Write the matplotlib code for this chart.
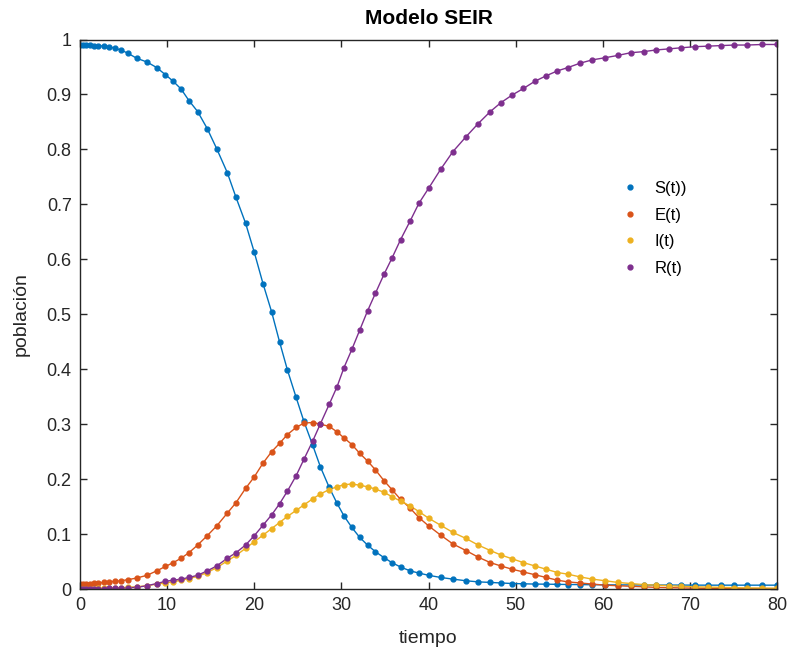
import numpy as np
import matplotlib
matplotlib.use("Agg")
import matplotlib.pyplot as plt

### Data (SEIR model, adaptive time steps)
t = [0, 0.3, 0.7, 1.1, 1.6, 2.1, 2.7, 3.3, 4.0, 4.7, 5.5, 6.5,
     7.7, 8.8, 9.8, 10.7, 11.6, 12.5, 13.5, 14.6, 15.7, 16.9, 17.9, 19.0,
     20.0, 21.0, 22.0, 22.9, 23.8, 24.8, 25.7, 26.7, 27.6, 28.6,
     29.5, 30.3, 31.2, 32.1, 33.0, 33.9, 34.9, 35.8, 36.8, 37.9,
     38.9, 40.0, 41.4, 42.8, 44.3, 45.7, 47.1, 48.3, 49.6, 50.9,
     52.2, 53.5, 54.8, 56.0, 57.4, 58.8, 60.3, 61.7, 63.2, 64.7,
     66.1, 67.6, 69.0, 70.6, 72.1, 73.6, 75.1, 76.6, 78.3, 80.0]

S = [0.990, 0.990, 0.990, 0.990, 0.989, 0.989, 0.988, 0.987, 0.984, 0.981, 0.975, 0.966,
     0.959, 0.949, 0.936, 0.924, 0.910, 0.889, 0.869, 0.838, 0.801, 0.758, 0.713, 0.666,
     0.613, 0.556, 0.504, 0.450, 0.399, 0.349, 0.305, 0.262, 0.222, 0.185,
     0.156, 0.133, 0.112, 0.094, 0.080, 0.068, 0.057, 0.048, 0.040, 0.033,
     0.029, 0.025, 0.021, 0.018, 0.015, 0.013, 0.012, 0.011, 0.010, 0.0095,
     0.009, 0.0088, 0.0085, 0.0082, 0.008, 0.0078, 0.0076, 0.0075, 0.0074, 0.0073,
     0.0072, 0.0072, 0.0071, 0.0071, 0.007, 0.007, 0.007, 0.007, 0.007, 0.007]

E = [0.010, 0.010, 0.010, 0.010, 0.011, 0.011, 0.012, 0.013, 0.014, 0.015, 0.017, 0.020,
     0.025, 0.033, 0.041, 0.048, 0.056, 0.066, 0.080, 0.097, 0.115, 0.138, 0.157, 0.183,
     0.204, 0.229, 0.250, 0.265, 0.281, 0.294, 0.302, 0.303, 0.300, 0.296,
     0.286, 0.275, 0.263, 0.247, 0.233, 0.217, 0.197, 0.181, 0.163, 0.147,
     0.130, 0.115, 0.098, 0.082, 0.070, 0.058, 0.048, 0.042, 0.036, 0.031,
     0.026, 0.021, 0.016, 0.013, 0.011, 0.009, 0.007, 0.006, 0.005, 0.004,
     0.003, 0.0025, 0.002, 0.0015, 0.0012, 0.001, 0.0008, 0.0006, 0.0005, 0.0004]

I = [0.0, 0.0002, 0.0004, 0.0006, 0.0008, 0.001, 0.0013, 0.0016, 0.002, 0.0025, 0.003, 0.004,
     0.006, 0.009, 0.011, 0.013, 0.016, 0.019, 0.023, 0.030, 0.039, 0.051, 0.061, 0.074,
     0.086, 0.098, 0.110, 0.121, 0.132, 0.143, 0.153, 0.164, 0.173, 0.181,
     0.186, 0.190, 0.191, 0.189, 0.186, 0.182, 0.176, 0.168, 0.160, 0.151,
     0.141, 0.129, 0.116, 0.103, 0.092, 0.080, 0.070, 0.062, 0.055, 0.048,
     0.042, 0.036, 0.030, 0.027, 0.022, 0.018, 0.015, 0.012, 0.010, 0.008,
     0.007, 0.006, 0.005, 0.004, 0.0035, 0.003, 0.0025, 0.002, 0.0018, 0.0015]

R = [0.0, 0.0, 0.0001, 0.0002, 0.0003, 0.0005, 0.0007, 0.001, 0.0013, 0.0017, 0.0023, 0.003,
     0.006, 0.010, 0.014, 0.016, 0.018, 0.021, 0.025, 0.033, 0.042, 0.056, 0.066, 0.080,
     0.097, 0.116, 0.135, 0.155, 0.178, 0.206, 0.236, 0.269, 0.301, 0.336,
     0.368, 0.403, 0.436, 0.471, 0.506, 0.538, 0.573, 0.602, 0.636, 0.670,
     0.702, 0.729, 0.764, 0.796, 0.823, 0.847, 0.869, 0.885, 0.899, 0.911,
     0.924, 0.934, 0.943, 0.949, 0.957, 0.963, 0.967, 0.971, 0.976, 0.978,
     0.981, 0.983, 0.985, 0.987, 0.988, 0.989, 0.990, 0.990, 0.991, 0.991]

labels = ['S(t))', 'E(t)', 'I(t)', 'R(t)']
colors = ['#0072BD', '#D95319', '#EDB120', '#7E2F8E']

plt.rcParams['font.family'] = ['Liberation Sans', 'DejaVu Sans']

fig = plt.figure(figsize=(7.89, 6.59), dpi=100)
ax = fig.add_axes([0.1014, 0.1062, 0.8834, 0.8338])

# markers go in the legend, lines drawn separately
for y, lab, c in zip([S, E, I, R], labels, colors):
    ax.plot(t, y, '-', color=c, lw=1.0)
for y, lab, c in zip([S, E, I, R], labels, colors):
    ax.plot(t, y, '.', color=c, ms=7, label=lab)

ax.set_xlim(0, 80)
ax.set_ylim(0, 1)
ax.set_xticks(np.arange(0, 81, 10))
ax.set_yticks(np.arange(0, 1.01, 0.1))
ax.set_yticklabels(['0', '0.1', '0.2', '0.3', '0.4', '0.5', '0.6', '0.7', '0.8', '0.9', '1'])

axcol = '#262626'
for sp in ax.spines.values():
    sp.set_color(axcol)
    sp.set_linewidth(1.0)
ax.tick_params(direction='in', top=True, right=True, length=5, width=1.0,
               colors=axcol, labelsize=13, pad=6)

ax.set_title('Modelo SEIR', fontsize=15, fontweight='bold', color='black', pad=11)
ax.set_xlabel('tiempo', fontsize=14, color=axcol, labelpad=11)
ax.set_ylabel('población', fontsize=14, color=axcol, labelpad=12)

ax.legend(loc='upper left', bbox_to_anchor=(0.7526, 0.770), frameon=False,
          fontsize=12, handlelength=1.2, handletextpad=0.9, labelspacing=0.7,
          markerscale=1.0)

fig.savefig('out.png', dpi=100)
